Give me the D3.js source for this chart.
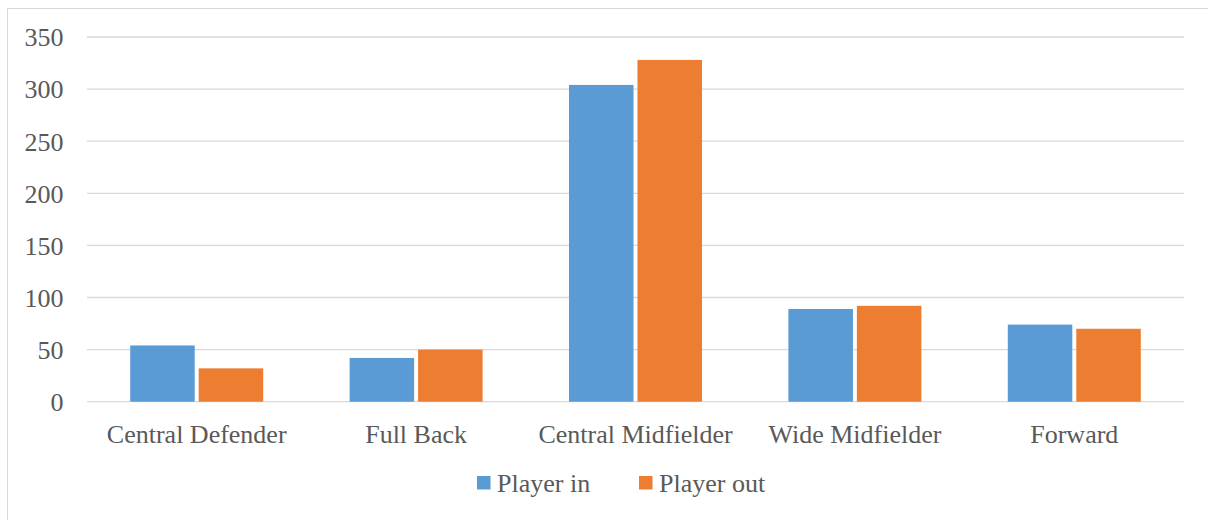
<!DOCTYPE html>
<html>
<head>
<meta charset="utf-8">
<script src="https://cdn.jsdelivr.net/npm/d3@7"></script>
<style>
  html, body { margin: 0; padding: 0; background: #fff; }
  svg { display: block; }
</style>
</head>
<body>
<svg id="chart" width="1208" height="520"></svg>
<script>
const categories = ["Central Defender", "Full Back", "Central Midfielder", "Wide Midfielder", "Forward"];
const seriesNames = ["Player in", "Player out"];
const playerIn = [54, 42, 304, 89, 74];
const playerOut = [32, 50, 328, 92, 70];
const yTicks = [0, 50, 100, 150, 200, 250, 300, 350];
const colors = ["#5B9BD5", "#ED7D31"];

const svg = d3.select("#chart");
const W = 1208, H = 520;
const plot = { left: 87, right: 1184, top: 37, bottom: 401.7 };
const font = "'Liberation Serif', 'Times New Roman', serif";
const fontSize = 26;
const textColor = "#595959";

// outer frame
svg.append("rect")
  .attr("x", 7.5).attr("y", 8.5)
  .attr("width", W + 10).attr("height", H + 10)
  .attr("fill", "#fff").attr("stroke", "#d9d9d9").attr("stroke-width", 1);

const y = d3.scaleLinear().domain([0, 350]).range([plot.bottom, plot.top]);
const x0 = d3.scaleBand().domain(categories).range([plot.left, plot.right]).padding(0);
const groupPad = 43.2;
const x1 = d3.scaleBand().domain(seriesNames)
  .range([groupPad, x0.bandwidth() - groupPad])
  .paddingInner(0.058).paddingOuter(0);

// gridlines
svg.append("g").selectAll("line").data(yTicks).join("line")
  .attr("x1", plot.left).attr("x2", plot.right)
  .attr("y1", d => y(d)).attr("y2", d => y(d))
  .attr("stroke", "#d9d9d9").attr("stroke-width", 1.3);

// y axis labels
const yAxis = d3.axisLeft(y).tickValues(yTicks).tickSize(0).tickPadding(0);
const gy = svg.append("g").attr("transform", `translate(63.5,0)`).call(yAxis);
gy.select(".domain").remove();
gy.selectAll("text")
  .style("font-family", font).style("font-size", fontSize + "px").attr("fill", textColor)
  .attr("dy", "0.34em");

// bars
const data = categories.map((c, i) => ({ cat: c, values: [playerIn[i], playerOut[i]] }));
const groups = svg.append("g").selectAll("g").data(data).join("g")
  .attr("transform", d => `translate(${x0(d.cat)},0)`);
groups.selectAll("rect")
  .data(d => d.values.map((v, j) => ({ name: seriesNames[j], value: v, j })))
  .join("rect")
  .attr("x", d => x1(d.name))
  .attr("width", x1.bandwidth())
  .attr("y", d => y(d.value))
  .attr("height", d => y(0) - y(d.value))
  .attr("fill", d => colors[d.j]);

// x axis labels
const xAxis = d3.axisBottom(x0).tickSize(0).tickPadding(0);
const gx = svg.append("g").attr("transform", `translate(0,${plot.bottom})`).call(xAxis);
gx.select(".domain").remove();
gx.selectAll("text")
  .style("font-family", font).style("font-size", fontSize + "px").attr("fill", textColor)
  .attr("y", 0).attr("dy", "41px");

// legend
const legendItems = [
  { name: seriesNames[0], color: colors[0], x: 477 },
  { name: seriesNames[1], color: colors[1], x: 639 }
];
const lg = svg.append("g");
legendItems.forEach(it => {
  lg.append("rect").attr("x", it.x).attr("y", 476).attr("width", 13.5).attr("height", 13.5)
    .attr("fill", it.color);
  lg.append("text").attr("x", it.x + 20).attr("y", 491.7)
    .style("font-family", font).style("font-size", fontSize + "px").attr("fill", textColor)
    .text(it.name);
});
</script>
</body>
</html>
